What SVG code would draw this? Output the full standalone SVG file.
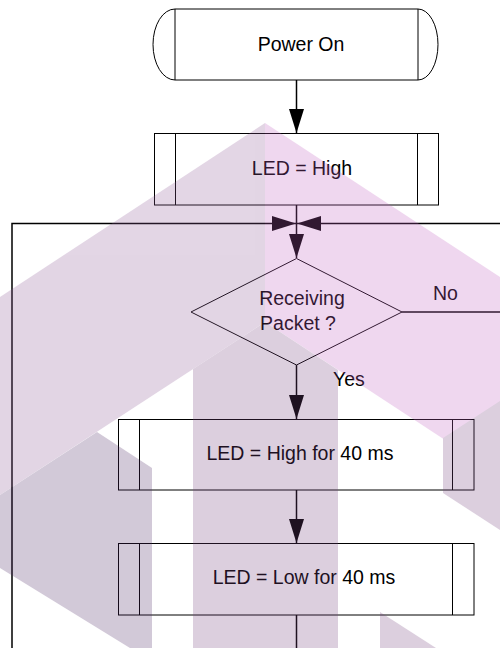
<svg xmlns="http://www.w3.org/2000/svg" width="500" height="648" viewBox="0 0 500 648">
<defs>
<marker id="arr" markerUnits="userSpaceOnUse" markerWidth="24" markerHeight="16" refX="24" refY="7.5" orient="auto"><path d="M0,0 L24,7.5 L0,15 Z" fill="#000"/></marker>
</defs>
<style>
.shape{fill:#fff;stroke:#000;stroke-width:1}
.line{fill:none;stroke:#000;stroke-width:1}
.conn{fill:none;stroke:#000;stroke-width:1.5}
text{font-family:"Liberation Sans",Arial,sans-serif;font-size:19.5px;fill:#000}
.c{text-anchor:middle}
</style>
<rect width="500" height="648" fill="#fff"/>
<g id="connectors">
<path class="conn" d="M296.5,80 V133" marker-end="url(#arr)"/>
<path class="conn" d="M296.5,205 V258" marker-end="url(#arr)"/>
<path class="conn" d="M296.5,615 V670 H12 V223.5 H296" marker-end="url(#arr)"/>
<path class="conn" d="M402,312 H520 V223.5 H297" marker-end="url(#arr)"/>
<path class="conn" d="M296.5,365 V419" marker-end="url(#arr)"/>
<path class="conn" d="M296.5,490 V543" marker-end="url(#arr)"/>
<text x="333" y="386">Yes</text>
<text x="433" y="299.5">No</text>
</g>
<g id="power-on">
<path class="shape" d="M175,9 H418 A20,35.5 0 0 1 418,80 H175 A22,35.5 0 0 1 175,9 Z"/>
<line class="line" x1="175" y1="9" x2="175" y2="80"/>
<line class="line" x1="418" y1="9" x2="418" y2="80"/>
<text class="c" x="301" y="50.5">Power On</text>
</g>
<g id="led-high">
<rect class="shape" x="154.5" y="133.5" width="284" height="71.5"/>
<line class="line" x1="175.5" y1="133.5" x2="175.5" y2="205"/>
<line class="line" x1="417.5" y1="133.5" x2="417.5" y2="205"/>
<text class="c" x="302" y="175">LED = High</text>
</g>
<g id="receiving-packet">
<polygon class="shape" points="296.5,258.5 402,312 296.5,365 191,312"/>
<text class="c" x="302" y="305">Receiving</text>
<text class="c" x="298" y="329.5">Packet ?</text>
</g>
<g id="led-high-40">
<rect class="shape" x="118.5" y="419.5" width="355.5" height="70.5"/>
<line class="line" x1="139.5" y1="419.5" x2="139.5" y2="490"/>
<line class="line" x1="452.5" y1="419.5" x2="452.5" y2="490"/>
<text class="c" x="300" y="460">LED = High for 40 ms</text>
</g>
<g id="led-low-40">
<rect class="shape" x="118.5" y="543.5" width="355.5" height="71.5"/>
<line class="line" x1="139.5" y1="543.5" x2="139.5" y2="615"/>
<line class="line" x1="452.5" y1="543.5" x2="452.5" y2="615"/>
<text class="c" x="304" y="583.5">LED = Low for 40 ms</text>
</g>
<g id="watermark" opacity="0.25">
<polygon fill="#8f5b97" points="265,123 0,297 0,495 265,322"/>
<polygon fill="#c363c3" points="265,123 500,277 500,476 265,322"/>
<polygon fill="#77437f" points="193,369 265,322 338,370 338,648 193,648"/>
<polygon fill="#4f2b67" points="0,495 97,432 152,468 152,648 130,648 0,568"/>
<polygon fill="#77437f" points="443,438 500,401 500,530 443,493"/>
<polygon fill="#77437f" points="380,612 436,648 380,648"/>
</g>
</svg>
